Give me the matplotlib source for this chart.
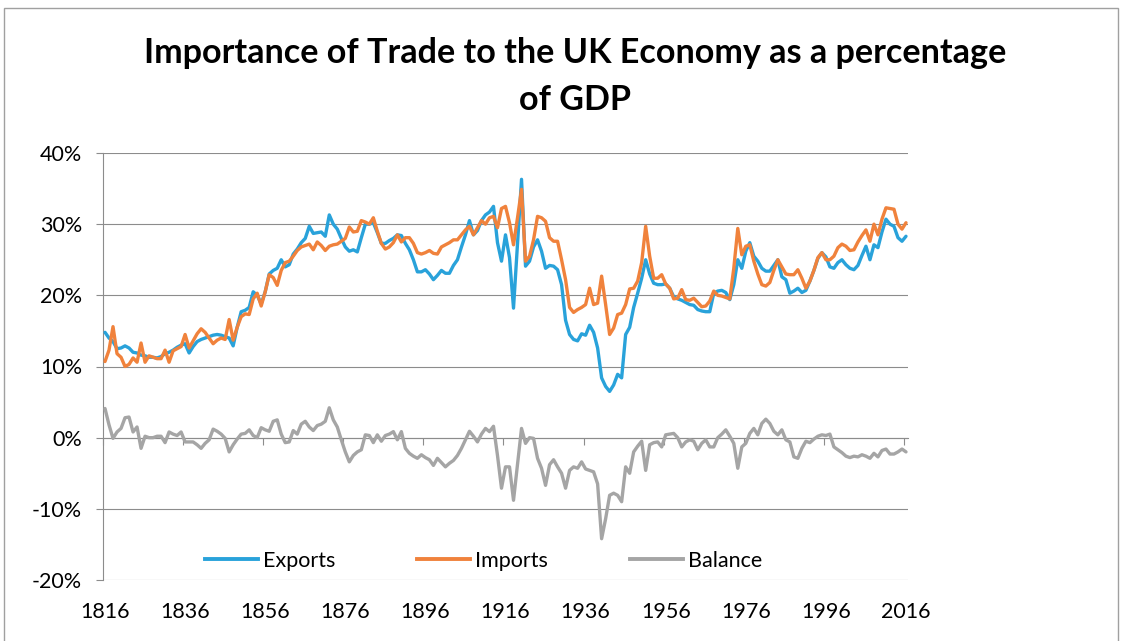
import matplotlib
matplotlib.use('Agg')
import matplotlib.pyplot as plt
from matplotlib.patches import Rectangle
from matplotlib.lines import Line2D

plt.rcParams['font.family'] = ['Lato', 'DejaVu Sans']

years = list(range(1816, 2017))

exports = [
    14.8, 14.0, 13.5, 12.5, 12.6, 12.9, 12.6, 12.0, 11.9, 11.6,   # 1816-1825
    11.5, 11.3, 11.3, 11.2, 11.4, 11.8, 12.0, 12.3, 12.7, 13.0,   # 1826-1835
    13.2, 11.9, 12.8, 13.5, 13.8, 14.0, 14.2, 14.4, 14.5, 14.4,   # 1836-1845
    14.2, 14.0, 12.9, 15.5, 17.7, 17.9, 18.3, 20.5, 20.0, 18.8,   # 1846-1855
    20.5, 23.0, 23.5, 23.8, 25.0, 24.0, 24.3, 25.8, 26.5, 27.4,   # 1856-1865
    28.0, 29.7, 28.7, 28.8, 28.9, 28.3, 31.3, 30.0, 29.3, 28.0,   # 1866-1875
    26.8, 26.2, 26.4, 26.1, 28.1, 30.0, 30.0, 30.2, 28.8, 27.3,   # 1876-1885
    27.3, 27.7, 28.0, 28.5, 28.4, 27.3, 26.4, 25.0, 23.3, 23.3,   # 1886-1895
    23.6, 23.0, 22.2, 22.8, 23.5, 23.1, 23.1, 24.2, 25.0, 26.8,   # 1896-1905
    28.5, 30.5, 28.5, 29.1, 30.5, 31.3, 31.7, 32.5, 27.4, 24.8,   # 1906-1915
    28.5, 25.3, 18.2, 27.2, 36.3, 24.1, 24.8, 26.8, 27.8, 26.2,   # 1916-1925
    23.8, 24.2, 24.1, 23.6, 21.5, 16.5, 14.5, 13.8, 13.6, 14.6,   # 1926-1935
    14.4, 15.8, 14.8, 12.6, 8.4, 7.2, 6.5, 7.4, 8.9, 8.4,         # 1936-1945
    14.5, 15.5, 18.3, 20.3, 22.4, 25.0, 23.0, 21.7, 21.5, 21.5,   # 1946-1955
    21.6, 21.0, 19.8, 19.5, 19.3, 19.0, 18.7, 18.6, 18.0, 17.8,   # 1956-1965
    17.7, 17.7, 20.3, 20.6, 20.7, 20.4, 19.4, 21.5, 25.0, 23.8,   # 1966-1975
    26.2, 27.4, 25.5, 24.8, 23.8, 23.4, 23.4, 24.2, 25.0, 22.6,   # 1976-1985
    22.2, 20.3, 20.6, 21.0, 20.4, 20.7, 22.0, 23.5, 25.2, 26.0,   # 1986-1995
    25.4, 24.0, 23.8, 24.6, 25.0, 24.3, 23.8, 23.6, 24.2, 25.6,   # 1996-2005
    26.9, 25.0, 27.1, 26.7, 28.9, 30.7, 30.0, 29.7, 28.1, 27.6,   # 2006-2015
    28.3,                                                         # 2016
]

imports = [
    10.7, 12.3, 15.6, 11.8, 11.3, 10.0, 10.3, 11.2, 10.6, 13.3,   # 1816-1825
    10.6, 11.5, 11.3, 11.1, 11.1, 12.3, 10.6, 12.2, 12.5, 12.8,   # 1826-1835
    14.5, 12.6, 13.6, 14.6, 15.3, 14.8, 14.0, 13.2, 13.7, 14.0,   # 1836-1845
    13.8, 16.6, 13.7, 15.5, 17.0, 17.4, 17.3, 19.5, 20.3, 18.5,   # 1846-1855
    20.5, 22.9, 22.5, 21.4, 23.5, 24.6, 24.8, 25.5, 26.3, 26.8,   # 1856-1865
    27.0, 27.2, 26.4, 27.5, 27.0, 26.3, 26.9, 27.1, 27.2, 27.6,   # 1866-1875
    28.0, 29.6, 28.9, 29.0, 30.5, 30.3, 30.0, 30.9, 29.0, 27.3,   # 1876-1885
    26.5, 26.8, 27.4, 28.5, 27.5, 28.1, 28.1, 27.3, 26.0, 25.8,   # 1886-1895
    26.0, 26.3, 25.9, 25.8, 26.8, 27.1, 27.4, 27.8, 27.8, 28.5,   # 1896-1905
    29.2, 29.7, 28.5, 29.5, 30.5, 30.0, 30.9, 31.1, 29.5, 32.2,   # 1906-1915
    32.5, 30.2, 27.1, 30.9, 34.9, 24.8, 25.5, 27.8, 31.1, 30.9,   # 1916-1925
    30.4, 28.1, 27.6, 27.6, 25.0, 22.2, 18.3, 17.6, 18.0, 18.3,   # 1926-1935
    18.7, 21.0, 18.7, 18.9, 22.7, 18.7, 14.5, 15.4, 17.3, 17.5,   # 1936-1945
    18.7, 20.9, 21.0, 22.0, 24.6, 29.7, 25.5, 22.4, 22.4, 22.9,   # 1946-1955
    21.6, 21.0, 19.5, 19.6, 20.8, 19.4, 19.3, 19.6, 19.0, 18.4,   # 1956-1965
    18.5, 19.2, 20.6, 20.0, 19.9, 19.7, 19.5, 23.8, 29.4, 25.7,   # 1966-1975
    26.9, 27.1, 24.8, 23.0, 21.5, 21.3, 21.8, 23.5, 25.0, 24.0,   # 1976-1985
    23.0, 22.9, 22.9, 23.6, 22.4, 21.0, 22.0, 23.5, 25.3, 26.0,   # 1986-1995
    25.0, 25.0, 25.5, 26.7, 27.2, 26.9, 26.3, 26.4, 27.5, 28.4,   # 1996-2005
    29.2, 27.6, 30.0, 28.5, 30.7, 32.3, 32.2, 32.1, 30.0, 29.3,   # 2006-2015
    30.2,                                                         # 2016
]

balance = [
    4.1, 1.8, -0.1, 0.8, 1.3, 2.8, 2.9, 0.8, 1.5, -1.5,           # 1816-1825
    0.2, 0.0, 0.0, 0.2, 0.2, -0.7, 0.8, 0.5, 0.3, 0.8,            # 1826-1835
    -0.6, -0.6, -0.6, -1.0, -1.5, -0.8, -0.3, 1.2, 0.9, 0.5,      # 1836-1845
    -0.1, -2.0, -1.0, -0.2, 0.5, 0.6, 1.1, 0.3, 0.0, 1.4,         # 1846-1855
    1.1, 0.9, 2.3, 2.5, 0.5, -0.7, -0.6, 1.0, 0.5, 1.9,           # 1856-1865
    2.3, 1.5, 1.0, 1.7, 1.9, 2.3, 4.2, 2.5, 1.5, -0.3,            # 1866-1875
    -2.0, -3.4, -2.5, -2.0, -1.7, 0.4, 0.3, -0.7, 0.4, -0.5,      # 1876-1885
    0.3, 0.5, 0.85, -0.3, 0.85, -1.5, -2.2, -2.6, -2.9, -2.4,     # 1886-1895
    -2.8, -3.1, -3.9, -2.9, -3.5, -4.1, -3.6, -3.2, -2.5, -1.5,   # 1896-1905
    -0.3, 0.9, 0.2, -0.6, 0.5, 1.3, 0.85, 1.6, -2.5, -7.1,        # 1906-1915
    -4.1, -4.1, -8.8, -3.7, 1.3, -0.8, 0.0, -0.1, -2.9, -4.3,     # 1916-1925
    -6.7, -3.8, -3.1, -4.1, -5.0, -7.1, -4.6, -4.1, -4.3, -3.4,   # 1926-1935
    -4.4, -4.6, -4.8, -6.5, -14.2, -11.4, -8.1, -7.8, -8.1, -9.0, # 1936-1945
    -4.1, -5.0, -2.0, -1.2, -0.5, -4.6, -1.0, -0.7, -0.6, -1.3,   # 1946-1955
    0.4, 0.5, 0.6, 0.0, -1.3, -0.6, -0.3, -0.5, -1.7, -0.8,       # 1956-1965
    -0.3, -1.3, -1.3, 0.0, 0.5, 1.1, 0.2, -0.8, -4.3, -1.3,       # 1966-1975
    -0.8, 0.6, 1.3, 0.4, 2.0, 2.6, 2.0, 0.9, 0.4, 1.1,            # 1976-1985
    -0.3, -0.6, -2.7, -2.9, -1.5, -0.5, -0.7, -0.2, 0.2, 0.4,     # 1986-1995
    0.3, 0.5, -1.3, -1.7, -2.1, -2.6, -2.8, -2.6, -2.7, -2.4,     # 1996-2005
    -2.6, -2.9, -2.2, -2.7, -1.8, -1.6, -2.3, -2.3, -2.0, -1.6,   # 2006-2015
    -2.0,                                                         # 2016
]

series_names = ['Exports', 'Imports', 'Balance']
series_colors = ['#29A2DA', '#F0823C', '#A5A5A5']

x_label_years = list(range(1816, 2017, 20))
x_tick_bounds = [y - 0.5 for y in x_label_years]
y_ticks = [-20, -10, 0, 10, 20, 30, 40]
y_tick_labels = ['-20%', '-10%', '0%', '10%', '20%', '30%', '40%']

title_line1 = 'Importance of Trade to the UK Economy as a percentage'
title_line2 = 'of GDP'

W, H = 1131, 641
fig = plt.figure(figsize=(W / 100, H / 100), dpi=100)
fig.patch.set_facecolor('white')

grid_col = '#8C8C8C'
fs = 15.5

ax = fig.add_axes([103 / W, 1 - 580 / H, (908 - 103) / W, (580 - 153) / H])
ax.set_xlim(1815.5, 2016.5)
ax.set_ylim(-20, 40)

lw = 2.4
for vals, name, col in zip([exports, imports, balance], series_names, series_colors):
    ax.plot(years, vals, color=col, lw=lw, label=name,
            solid_joinstyle='round', solid_capstyle='round', zorder=3)

ax.set_yticks(y_ticks)
ax.set_yticklabels(y_tick_labels)
ax.yaxis.grid(True, color=grid_col, lw=0.8)
ax.set_axisbelow(True)
ax.tick_params(axis='y', length=5, width=0.8, color=grid_col, pad=10,
               labelsize=fs, labelcolor='black', direction='out')

ax.set_xticks(x_label_years)
ax.tick_params(axis='x', length=0, pad=16, labelsize=fs, labelcolor='black')

for s in ['top', 'right', 'bottom']:
    ax.spines[s].set_visible(False)
ax.spines['left'].set_color(grid_col)
ax.spines['left'].set_linewidth(0.8)

# horizontal category axis at 0 with tick marks
sec = ax.secondary_xaxis((0 - (-20)) / 60.0)
sec.set_xticks(x_tick_bounds)
sec.tick_params(axis='x', length=5, width=0.8, color=grid_col, direction='out',
                labelbottom=False, labeltop=False)
for s in sec.spines.values():
    s.set_color(grid_col)
    s.set_linewidth(0.8)

handles = [Line2D([0], [0], color=c, lw=lw + 0.4) for c in series_colors]
leg = ax.legend(handles, series_names, loc='center', bbox_to_anchor=(0.473, 0.045),
                ncol=3, frameon=False, fontsize=fs, handlelength=2.45,
                handletextpad=0.25, columnspacing=3.8)

fig.text(575 / W, 1 - 53 / H, title_line1, ha='center', va='center',
         fontsize=24.6, fontweight='bold', color='black')
fig.text(575 / W, 1 - 100 / H, title_line2, ha='center', va='center',
         fontsize=24.6, fontweight='bold', color='black')

fig.patches.append(Rectangle((4 / W, -0.02), (1118 - 4) / W, 1.02 - 8 / H,
                             transform=fig.transFigure, fill=False,
                             edgecolor='#A0A0A0', lw=1.0))

fig.savefig('out.png', dpi=100, facecolor='white')
